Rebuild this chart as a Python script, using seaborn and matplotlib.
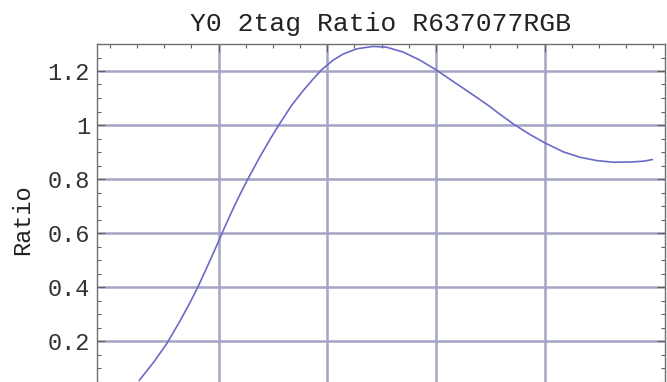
import matplotlib
matplotlib.use("Agg")
import matplotlib.pyplot as plt
import seaborn as sns
from matplotlib.ticker import FixedLocator, MultipleLocator

# Data
x_vals = [0.271, 0.410, 0.523, 0.640, 0.732, 0.809, 0.887, 0.963, 1.009, 1.055, 1.132, 1.194,
          1.270, 1.378, 1.486, 1.563, 1.671, 1.778, 1.870, 1.947, 2.054, 2.147, 2.270, 2.423,
          2.547, 2.700, 2.854, 3.002, 3.193, 3.377, 3.484, 3.562, 3.715, 3.869, 4.001, 4.176,
          4.330, 4.484, 4.637, 4.792, 4.914, 4.992]
ratio_vals = [0.054, 0.125, 0.190, 0.270, 0.338, 0.399, 0.467, 0.535, 0.577, 0.620, 0.688, 0.740,
              0.800, 0.880, 0.955, 1.005, 1.072, 1.127, 1.170, 1.204, 1.240, 1.263, 1.282, 1.291,
              1.288, 1.270, 1.240, 1.204, 1.152, 1.102, 1.072, 1.048, 1.003, 0.964, 0.934, 0.900,
              0.880, 0.868, 0.862, 0.863, 0.866, 0.872]
y_ticks = [0.2, 0.4, 0.6, 0.8, 1.0, 1.2]
y_tick_labels = ["0.2", "0.4", "0.6", "0.8", "1", "1.2"]
x_grid = [1, 2, 3, 4]
title = "Y0 2tag Ratio R637077RGB"
ylabel = "Ratio"

sns.set_style("white")
plt.rcParams['font.family'] = ['Liberation Mono', 'DejaVu Sans Mono']

W, H = 667, 382
fig = plt.figure(figsize=(W / 100, H / 100), dpi=100)
left, right, top, bottom = 97, 665, 44, 395
ax = fig.add_axes([left / W, (H - bottom) / H, (right - left) / W, (bottom - top) / H])

sns.lineplot(x=x_vals, y=ratio_vals, ax=ax, color="#6a6ac8", linewidth=1.2, sort=False)

ax.set_xlim(-0.118, 5.108)
ax.set_ylim(0.0, 1.3)

ax.xaxis.set_major_locator(FixedLocator(x_grid))
ax.xaxis.set_minor_locator(MultipleLocator(0.25))
ax.yaxis.set_major_locator(FixedLocator(y_ticks))
ax.yaxis.set_minor_locator(MultipleLocator(0.05))
ax.set_yticklabels(y_tick_labels)
ax.set_xticklabels([])

ax.grid(True, which="major", color="#a4a4c4", linewidth=1.8)
ax.set_axisbelow(True)

ax.tick_params(which="both", direction="in", top=True, right=True, bottom=True, left=True,
               color="#606060", width=0.8)
ax.tick_params(which="major", length=6, labelsize=17, pad=5, labelcolor="#333333")
ax.tick_params(which="minor", length=3)
for s in ax.spines.values():
    s.set_color("#707070")
    s.set_linewidth(1.0)

ax.set_title(title, fontsize=19, pad=9, color="#222222")
ax.set_ylabel(ylabel, fontsize=17, labelpad=10, color="#222222")
ax.set_xlabel("")

fig.savefig("out.png", dpi=100)
